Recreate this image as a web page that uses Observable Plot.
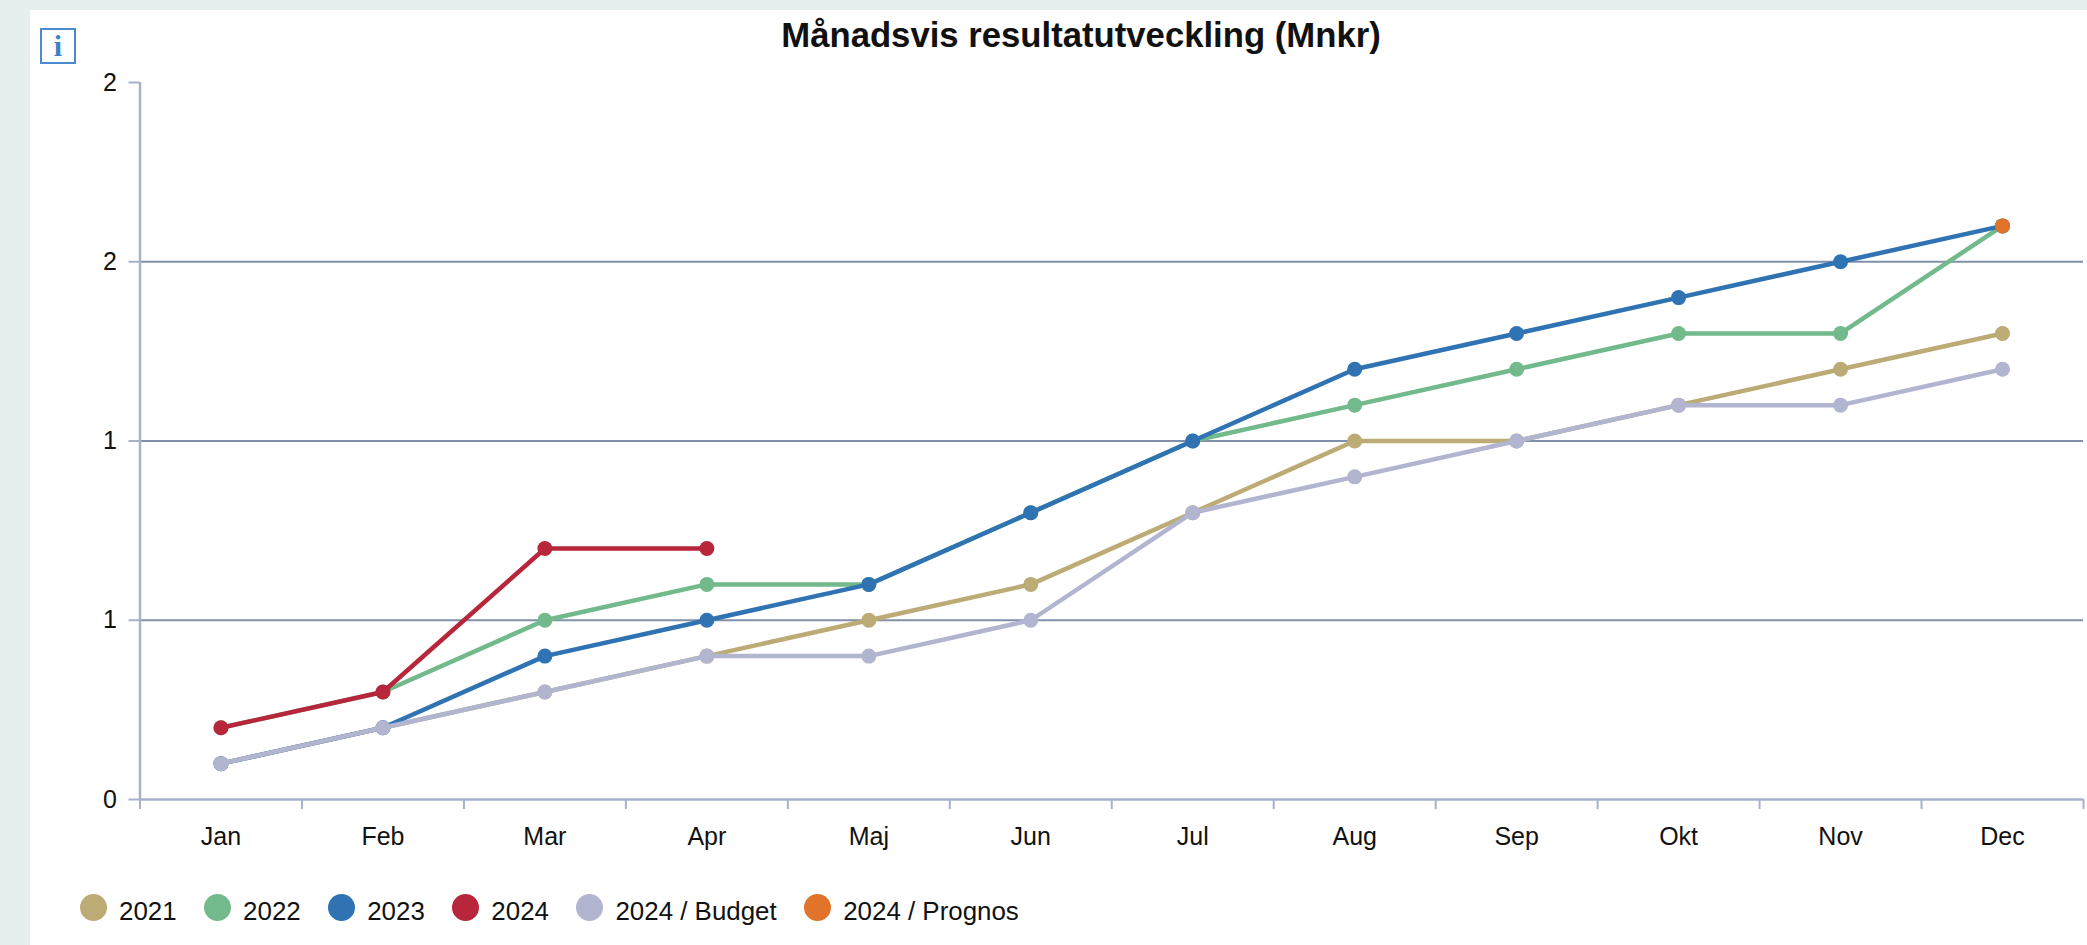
<!DOCTYPE html>
<html lang="sv">
<head>
<meta charset="utf-8">
<script src="https://cdn.jsdelivr.net/npm/d3@7"></script>
<script src="https://cdn.jsdelivr.net/npm/@observablehq/plot@0.6"></script>
<style>
  html, body { margin: 0; padding: 0; width: 2087px; height: 945px; overflow: hidden; background: #e6efed; }
  body { font-family: "Liberation Sans", Arial, sans-serif; color: #111; position: relative; }
  #panel { position: absolute; left: 30px; top: 10px; width: 2057px; height: 935px; background: #fff; }
  #title { position: absolute; left: 0; top: 35px; width: 2087px; height: 0; line-height: 0; text-align: center; padding-left: 75px; box-sizing: border-box; font-weight: 700; font-size: 34.7px; }
  #info { position: absolute; left: 40px; top: 28px; width: 32px; height: 32px; border: 2px solid #4a8bd0; color: #3b82c9; font: 700 30px/32px "Liberation Serif", serif; text-align: center; }
  #chart { position: absolute; left: 0; top: 50px; }
  #chart svg { display: block; }
  #legend { position: absolute; left: 80px; top: 893px; display: flex; gap: 27.5px; font-size: 25.9px; line-height: 28px; }
  #legend .item { display: flex; align-items: center; gap: 12px; }
  #legend .swatch { width: 27px; height: 27px; border-radius: 50%; display: block; }
  #legend .label { position: relative; top: 4px; }
</style>
</head>
<body>
<div id="panel"></div>
<div id="title">Månadsvis resultatutveckling (Mnkr)</div>
<div id="info">i</div>
<div id="chart"></div>
<div id="legend"></div>
<script>
const months = ["Jan","Feb","Mar","Apr","Maj","Jun","Jul","Aug","Sep","Okt","Nov","Dec"];
const seriesNames = ["2021","2022","2023","2024","2024 / Budget","2024 / Prognos"];
const seriesColors = ["#bdab76","#72ba8b","#3073b3","#b7263b","#b2b5cf","#e2732a"];

const v2021 = [0.1,0.2,0.3,0.4,0.5,0.6,0.8,1.0,1.0,1.1,1.2,1.3];
const v2022 = [0.2,0.3,0.5,0.6,0.6,0.8,1.0,1.1,1.2,1.3,1.3,1.6];
const v2023 = [0.1,0.2,0.4,0.5,0.6,0.8,1.0,1.2,1.3,1.4,1.5,1.6];
const v2024 = [0.2,0.3,0.7,0.7];
const vBudget = [0.1,0.2,0.3,0.4,0.4,0.5,0.8,0.9,1.0,1.1,1.1,1.2];
const vPrognos = [null,null,null,null,null,null,null,null,null,null,null,1.6];
const allValues = [v2021,v2022,v2023,v2024,vBudget,vPrognos];

const yTicks = [0,0.5,1,1.5,2];
const gridTicks = [0.5,1,1.5];
const edgeTicks = d3.range(months.length + 1);
const centerTicks = months.map((m, i) => i + 0.5);

const axisColor = "#a6b2cb";
const gridColor = "#8090aa";

const rows = (k) => allValues[k]
  .map((v, i) => ({series: seriesNames[k], x: i + 0.5, v}))
  .filter(d => d.v != null);

const seriesMarks = seriesNames.flatMap((s, k) => [
  Plot.line(rows(k), {x: "x", y: "v", stroke: "series", strokeWidth: 4.5, curve: "linear"}),
  Plot.dot(rows(k), {x: "x", y: "v", fill: "series", stroke: null, r: 7.5})
]);

const plot = Plot.plot({
  width: 2087,
  height: 810,
  marginLeft: 139.5,
  marginRight: 4,
  marginTop: 32,
  marginBottom: 61,
  style: {background: "transparent", fontFamily: '"Liberation Sans", Arial, sans-serif', fontSize: "25px", color: "#111", overflow: "visible"},
  x: {domain: [0, months.length]},
  y: {domain: [0, 2]},
  color: {domain: seriesNames, range: seriesColors},
  marks: [
    Plot.ruleY(gridTicks, {stroke: gridColor, strokeWidth: 2}),
    Plot.axisY({ticks: yTicks, tickFormat: d => String(Math.round(d)), tickSize: 11, tickPadding: 12, stroke: axisColor, strokeOpacity: 1, strokeWidth: 2, fill: "#111", label: null}),
    Plot.axisX({ticks: edgeTicks, tickFormat: () => "", tickSize: 10, stroke: axisColor, strokeOpacity: 1, strokeWidth: 2, label: null}),
    Plot.axisX({ticks: centerTicks, tickFormat: d => months[Math.round(d - 0.5)], tickSize: 0, tickPadding: 28, fill: "#111", label: null}),
    Plot.ruleX([0], {stroke: axisColor, strokeWidth: 2.5}),
    Plot.ruleY([0], {stroke: axisColor, strokeWidth: 2.5}),
    ...seriesMarks
  ]
});
document.getElementById("chart").appendChild(plot);

const legend = document.getElementById("legend");
seriesNames.forEach((s, k) => {
  const item = document.createElement("div");
  item.className = "item";
  const sw = document.createElement("span");
  sw.className = "swatch";
  sw.style.background = seriesColors[k];
  const lb = document.createElement("span");
  lb.className = "label";
  lb.textContent = s;
  item.append(sw, lb);
  legend.appendChild(item);
});
</script>
</body>
</html>
